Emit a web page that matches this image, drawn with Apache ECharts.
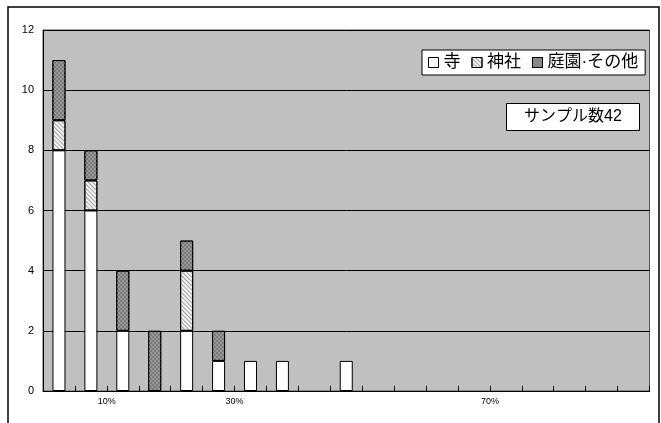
<!DOCTYPE html>
<html><head><meta charset="utf-8">
<script src="https://cdn.jsdelivr.net/npm/echarts@6/dist/echarts.min.js"></script>
<style>html,body{margin:0;padding:0;background:#fff}#c{width:661px;height:423px}</style>
</head><body><div id="c"></div>
<script>
const categories = ['0-5%','5-10%','10-15%','15-20%','20-25%','25-30%','30-35%','35-40%','40-45%','45-50%','50-55%','55-60%','60-65%','65-70%','70-75%','75-80%','80-85%','85-90%','90-95%'];
const temple = [8,6,2,0,2,1,1,1,0,1,0,0,0,0,0,0,0,0,0];
const shrine = [1,1,0,0,2,0,0,0,0,0,0,0,0,0,0,0,0,0,0];
const garden = [2,1,2,2,1,1,0,0,0,0,0,0,0,0,0,0,0,0,0];
const seriesNames = ['寺','神社','庭園·その他'];
const tickLabels = ['10%','30%','70%'];
const yTicks = [0,2,4,6,8,10,12];
const sampleText = 'サンプル数42';

const nz = a => a.map(v => v === 0 ? '-' : v);
const font = "'Liberation Sans','Noto Sans CJK JP',sans-serif";
const chart = echarts.init(document.getElementById('c'), null, {renderer:'canvas'});
const border = {borderColor:'#000', borderWidth:1};
chart.setOption({
  animation:false,
  grid:{left:43, top:30, right:11.5, bottom:32, show:true, backgroundColor:'#c0c0c0', borderColor:'#555', borderWidth:1},
  legend:{
    left:422, top:50, orient:'horizontal', padding:[4,7,4,6], itemGap:11, itemWidth:10, itemHeight:10,
    icon:'rect', backgroundColor:'#fff', borderColor:'#000', borderWidth:1,
    textStyle:{fontFamily:font, fontSize:17, color:'#000', padding:[0,0,0,0]},
    itemStyle:{borderColor:'#000', borderWidth:1},
    data:seriesNames
  },
  title:{
    text:sampleText, left:506, top:103, padding:[6,18,6,18],
    backgroundColor:'#fff', borderColor:'#000', borderWidth:1,
    textStyle:{fontFamily:font, fontSize:16, fontWeight:'normal', color:'#000'}
  },
  graphic:[{type:'rect', shape:{x:8, y:7, width:651, height:440}, style:{fill:'none', stroke:'#000', lineWidth:1.5}, silent:true}],
  xAxis:[
    {type:'category', data:categories, boundaryGap:true,
     axisLine:{show:true, lineStyle:{color:'#000', width:1}}, axisTick:{show:false}, axisLabel:{show:false}},
    {type:'value', min:0, max:95, interval:5, position:'bottom',
     axisLine:{show:false}, axisTick:{show:true, inside:true, length:5, lineStyle:{color:'#000'}},
     splitLine:{show:false},
     axisLabel:{margin:6, fontSize:9, fontFamily:font, color:'#000',
       formatter:v => tickLabels.includes(v+'%') ? v+'%' : ''}}
  ],
  yAxis:{type:'value', min:yTicks[0], max:yTicks[yTicks.length-1], interval:2,
    axisLine:{show:true, lineStyle:{color:'#000'}}, axisTick:{show:false},
    splitLine:{show:true, lineStyle:{color:'#000', width:1}},
    axisLabel:{margin:9, fontSize:11, fontFamily:font, color:'#000'}},
  series:[
    {name:seriesNames[0], type:'bar', stack:'s', barWidth:13, data:nz(temple),
     itemStyle:Object.assign({color:'#fff'}, border)},
    {name:seriesNames[1], type:'bar', stack:'s', barWidth:13, data:nz(shrine),
     itemStyle:Object.assign({color:'#f2f2f2',
       decal:{symbol:'rect', color:'#a6a6a6', dashArrayX:[1,0], dashArrayY:[1,1.5], rotation:Math.PI/4, symbolSize:1}}, border)},
    {name:seriesNames[2], type:'bar', stack:'s', barWidth:13, data:nz(garden),
     itemStyle:Object.assign({color:'#7c7c7c',
       decal:{symbol:'rect', color:'#959595', dashArrayX:[[2,2],[0,2,2,0]], dashArrayY:[2,0], symbolSize:1}}, border)}
  ]
});
</script></body></html>
